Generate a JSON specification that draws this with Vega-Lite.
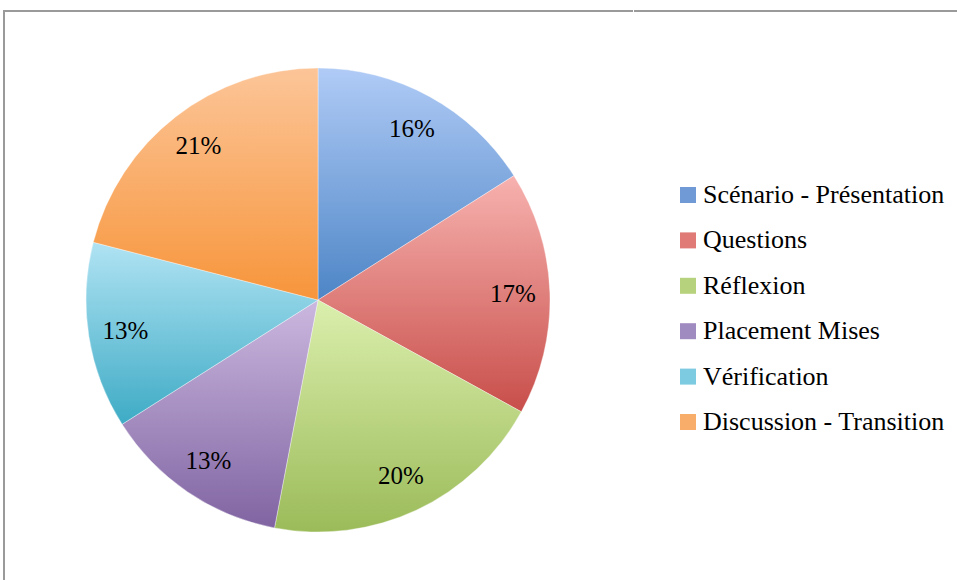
{
  "$schema": "https://vega.github.io/schema/vega-lite/v6.json",
  "padding": {"left": 3, "top": 10, "right": 0, "bottom": 0},
  "background": "white",
  "spacing": 0,
  "hconcat": [
    {
      "width": 628,
      "height": 578,
      "view": {"stroke": "#9a9a9a", "strokeWidth": 2, "strokeDash": [629, 1205, 578]},
      "data": {"values": [
        {"cat": "Scénario - Présentation", "pct": 16, "label": "16%", "ord": 1},
        {"cat": "Questions", "pct": 17, "label": "17%", "ord": 2},
        {"cat": "Réflexion", "pct": 20, "label": "20%", "ord": 3},
        {"cat": "Placement Mises", "pct": 13, "label": "13%", "ord": 4},
        {"cat": "Vérification", "pct": 13, "label": "13%", "ord": 5},
        {"cat": "Discussion - Transition", "pct": 21, "label": "21%", "ord": 6}
      ]},
      "encoding": {
        "theta": {"field": "pct", "type": "quantitative", "stack": true},
        "order": {"field": "ord", "type": "quantitative"}
      },
      "layer": [
        {
          "mark": {"type": "arc", "outerRadius": 232, "stroke": "#ffffff", "strokeWidth": 0.6, "strokeOpacity": 0.6},
          "encoding": {
            "fill": {
              "field": "cat",
              "type": "nominal",
              "scale": {
                "domain": ["Scénario - Présentation", "Questions", "Réflexion", "Placement Mises", "Vérification", "Discussion - Transition"],
                "range": ["#6f9ad6", "#e07a76", "#b6d27c", "#a08bc0", "#7ccbe0", "#f9ad6a"]
              },
              "condition": [
                {"test": "datum.cat === 'Scénario - Présentation'", "value": {"gradient": "linear", "x1": 0, "y1": 0, "x2": 0, "y2": 1, "stops": [{"offset": 0, "color": "#b0cbf6"}, {"offset": 1, "color": "#4d85c6"}]}},
                {"test": "datum.cat === 'Questions'", "value": {"gradient": "linear", "x1": 0, "y1": 0, "x2": 0, "y2": 1, "stops": [{"offset": 0, "color": "#f7b2af"}, {"offset": 1, "color": "#c84e4a"}]}},
                {"test": "datum.cat === 'Réflexion'", "value": {"gradient": "linear", "x1": 0, "y1": 0, "x2": 0, "y2": 1, "stops": [{"offset": 0, "color": "#dbefad"}, {"offset": 1, "color": "#9bbb59"}]}},
                {"test": "datum.cat === 'Placement Mises'", "value": {"gradient": "linear", "x1": 0, "y1": 0, "x2": 0, "y2": 1, "stops": [{"offset": 0, "color": "#cbb8df"}, {"offset": 1, "color": "#8064a2"}]}},
                {"test": "datum.cat === 'Vérification'", "value": {"gradient": "linear", "x1": 0, "y1": 0, "x2": 0, "y2": 1, "stops": [{"offset": 0, "color": "#b0e3f3"}, {"offset": 1, "color": "#3eabc5"}]}},
                {"test": "datum.cat === 'Discussion - Transition'", "value": {"gradient": "linear", "x1": 0, "y1": 0, "x2": 0, "y2": 1, "stops": [{"offset": 0, "color": "#fcc598"}, {"offset": 1, "color": "#f7953b"}]}}
              ],
              "legend": {
                "orient": "none",
                "legendX": 671,
                "legendY": 171,
                "title": null,
                "padding": 0,
                "symbolType": "square",
                "symbolSize": 256,
                "symbolStrokeWidth": 0,
                "labelFont": "'Liberation Serif', serif",
                "labelFontSize": 26,
                "labelColor": "black",
                "labelOffset": 2,
                "labelLimit": 400,
                "rowPadding": 19.4
              }
            }
          }
        },
        {
          "mark": {"type": "text", "radius": 195, "font": "'Liberation Serif', serif", "fontSize": 25, "color": "black"},
          "encoding": {"text": {"field": "label", "type": "nominal"}}
        }
      ]
    },
    {
      "width": 325,
      "height": 578,
      "view": {"stroke": "#9a9a9a", "strokeWidth": 2, "strokeDash": [325, 2000]},
      "data": {"values": []},
      "mark": {"type": "text"},
      "encoding": {}
    }
  ]
}
